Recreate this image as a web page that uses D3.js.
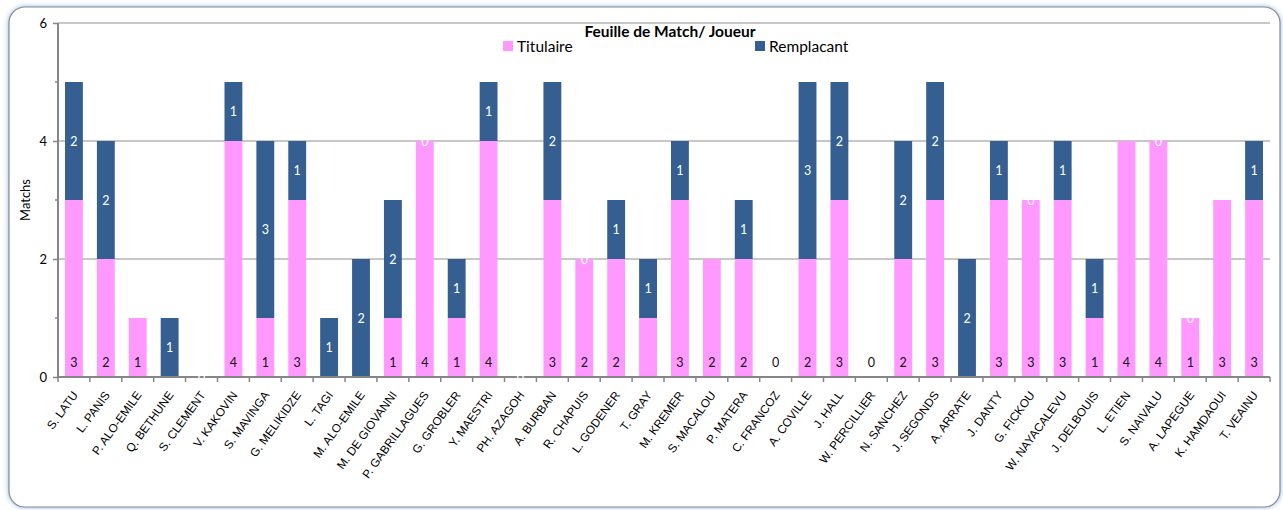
<!DOCTYPE html>
<html><head><meta charset="utf-8">
<script src="https://cdn.jsdelivr.net/npm/d3@7"></script>
<style>
html,body{margin:0;padding:0;background:#fff;}
svg{display:block;}
</style></head>
<body>
<svg id="chart" width="1283" height="510"></svg>
<script>
const players = ["S. LATU","L.  PANIS","P. ALO-EMILE","Q. BETHUNE","S. CLEMENT","V. KAKOVIN","S. MAVINGA","G. MELIKIDZE","L. TAGI","M. ALO-EMILE","M. DE GIOVANNI","P. GABRILLAGUES","G. GROBLER","Y.  MAESTRI","PH. AZAGOH","A.  BURBAN","R. CHAPUIS","L. GODENER","T.  GRAY","M. KREMER","S. MACALOU","P. MATERA","C. FRANCOZ","A. COVILLE","J. HALL","W. PERCILLIER","N. SANCHEZ","J. SEGONDS","A. ARRATE","J.  DANTY","G.  FICKOU","W. NAYACALEVU","J. DELBOUIS","L. ETIEN","S. NAIVALU","A. LAPEGUE","K. HAMDAOUI","T. VEAINU"];
const titulaire  = [3,2,1,0,0,4,1,3,0,0,1,4,1,4,0,3,2,2,1,3,2,2,0,2,3,0,2,3,0,3,3,3,1,4,4,1,3,3];
const remplacant = [2,2,0,1,0,1,3,1,1,2,2,0,1,1,0,2,0,1,1,1,0,1,0,3,2,0,2,2,2,1,0,1,1,0,0,0,0,1];
// data label visibility as in the reference
const titLabelShown = [1,1,1,0,0,1,1,1,0,0,1,1,1,1,0,1,1,1,0,1,1,1,1,1,1,1,1,1,0,1,1,1,1,1,1,1,1,1];
const remLabelShown = [1,1,0,1,1,1,1,1,1,1,1,1,1,1,1,1,1,1,1,1,0,1,0,1,1,0,1,1,1,1,1,1,1,0,1,1,0,1];
const yTicks = [0,2,4,6];
const seriesNames = ["Titulaire","Remplacant"];
const colors = ["#FF99FF","#355F91"];
const title = "Feuille de Match/ Joueur";
const yTitle = "Matchs";

const svg = d3.select("#chart");
const F = "Lato, 'Open Sans', sans-serif";

// frame
const defs = svg.append("defs");
const flt = defs.append("filter").attr("id","glow").attr("x","-5%").attr("y","-5%").attr("width","110%").attr("height","110%");
flt.append("feGaussianBlur").attr("in","SourceAlpha").attr("stdDeviation",2.5).attr("result","b");
flt.append("feFlood").attr("flood-color","#8fb4e8").attr("result","c");
flt.append("feComposite").attr("in","c").attr("in2","b").attr("operator","in").attr("result","s");
const m = flt.append("feMerge"); m.append("feMergeNode").attr("in","s"); m.append("feMergeNode").attr("in","SourceGraphic");
svg.append("rect").attr("x",9).attr("y",7).attr("width",1271).attr("height",500).attr("rx",16)
  .attr("fill","#fff").attr("stroke","#8a8a8a").attr("stroke-width",1.2).attr("filter","url(#glow)");

const x = d3.scaleBand().domain(players).range([58,1270]).paddingInner(0.44).paddingOuter(0.22);
const y = d3.scaleLinear().domain([0,6]).range([377,23]);

// gridlines
svg.append("g").selectAll("line").data(yTicks.filter(d=>d>0)).join("line")
  .attr("x1",58).attr("x2",1270).attr("y1",d=>y(d)).attr("y2",d=>y(d))
  .attr("stroke","#b4b4b4").attr("stroke-width",1.3);

// bars
const stackData = players.map((p,i)=>({p, Titulaire:titulaire[i], Remplacant:remplacant[i], i}));
const stack = d3.stack().keys(seriesNames)(stackData);
svg.append("g").selectAll("g").data(stack).join("g").attr("fill",(d,k)=>colors[k])
  .selectAll("rect").data(d=>d).join("rect")
  .attr("x",d=>x(d.data.p)).attr("width",x.bandwidth())
  .attr("y",d=>y(d[1])).attr("height",d=>y(d[0])-y(d[1]));

// y axis
const yAxis = svg.append("g").attr("transform","translate(58,0)")
  .call(d3.axisLeft(y).tickValues(yTicks).tickSize(5).tickFormat(d3.format("d")));
yAxis.select(".domain").remove();
yAxis.selectAll(".tick line").attr("stroke","#868686").attr("stroke-width",1.5);
yAxis.selectAll("text").attr("font-family",F).attr("font-size",13).attr("fill","#000").attr("x",-11);
svg.append("g").selectAll("line").data([1,3,5]).join("line")
  .attr("x1",55).attr("x2",58).attr("y1",d=>y(d)).attr("y2",d=>y(d)).attr("stroke","#868686").attr("stroke-width",1.5);
svg.append("line").attr("x1",58).attr("x2",58).attr("y1",y(6)).attr("y2",y(0)).attr("stroke","#868686").attr("stroke-width",2);

// x axis
const step = x.step();
const bounds = d3.range(players.length+1).map(i=> (i<players.length ? x(players[i]) - (step - x.bandwidth())/2 : x(players[players.length-1]) + x.bandwidth() + (step - x.bandwidth())/2));
svg.append("g").selectAll("line").data(bounds).join("line")
  .attr("x1",d=>d).attr("x2",d=>d).attr("y1",377).attr("y2",382).attr("stroke","#868686").attr("stroke-width",1.5);
svg.append("line").attr("x1",58).attr("x2",1270).attr("y1",y(0)).attr("y2",y(0)).attr("stroke","#868686").attr("stroke-width",2);
svg.append("g").selectAll("text").data(players).join("text")
  .attr("transform",d=>`translate(${x(d)+x.bandwidth()/2+4.5},${395}) rotate(-54)`)
  .attr("text-anchor","end").attr("font-family","'Liberation Sans', Arial, sans-serif").attr("font-size",11.8)
  .attr("fill","#000").text(d=>d);

// data labels
const lf = "Lato, 'Open Sans', sans-serif";
svg.append("g").selectAll("text").data(stackData.filter((d,i)=>titLabelShown[i])).join("text")
  .attr("x",d=>x(d.p)+x.bandwidth()/2).attr("y",y(0)-10).attr("text-anchor","middle")
  .attr("font-family",lf).attr("font-size",12.5).attr("fill","#111").text(d=>d.Titulaire);
svg.append("g").selectAll("text").data(stackData.filter((d,i)=>remLabelShown[i])).join("text")
  .attr("x",d=>x(d.p)+x.bandwidth()/2)
  .attr("y",d=>y(d.Titulaire + d.Remplacant/2)+4.5).attr("text-anchor","middle")
  .attr("font-family",lf).attr("font-size",12.5).attr("fill","#fff").text(d=>d.Remplacant);

// title
svg.append("text").attr("x",670).attr("y",37).attr("text-anchor","middle")
  .attr("font-family",F).attr("font-weight","bold").attr("font-size",15.5).attr("fill","#000").text(title);

// legend
const legX = [503,755];
const lg = svg.append("g").selectAll("g").data(seriesNames).join("g")
  .attr("transform",(d,i)=>`translate(${legX[i]},41)`);
lg.append("rect").attr("width",10).attr("height",10).attr("fill",(d,i)=>colors[i]);
lg.append("text").attr("x",14).attr("y",11).attr("font-family",F).attr("font-size",15.5).attr("fill","#000").text(d=>d);

// y title
svg.append("text").attr("transform","translate(30,200) rotate(-90)").attr("text-anchor","middle")
  .attr("font-family",F).attr("font-size",13).attr("fill","#000").text(yTitle);
</script>
</body></html>
